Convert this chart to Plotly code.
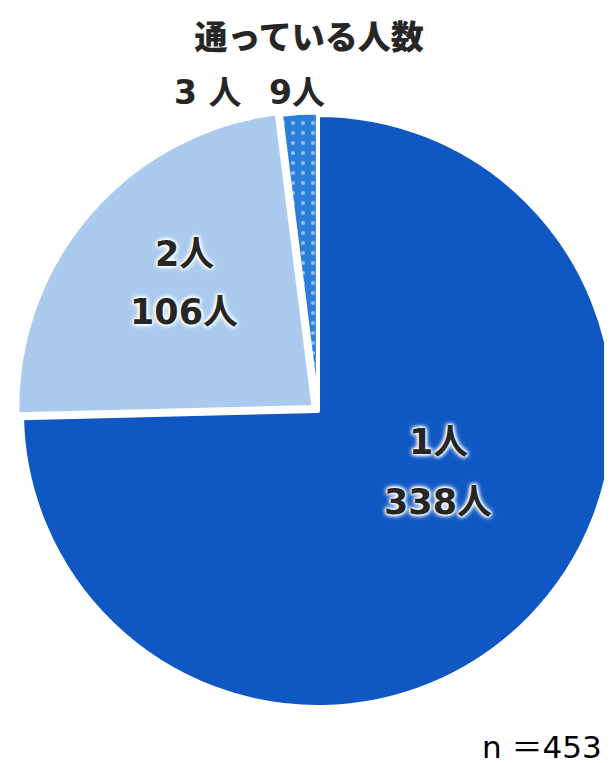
import plotly.graph_objects as go

title = "通っている人数"
categories = ["1人", "2人", "3人"]
counts = [338, 106, 9]
colors = ["#0F57C3", "#AACBEE", "#2B7FDA"]
pulls = [0, 0.02, 0.008]
total = sum(counts)

FONT = "DejaVu Sans, Noto Sans CJK JP, sans-serif"
TXT = "#262626"

fig = go.Figure()
fig.add_trace(go.Pie(
    labels=categories,
    values=counts,
    sort=False,
    direction="clockwise",
    rotation=0,
    pull=pulls,
    marker=dict(
        colors=colors,
        line=dict(color="white", width=4),
        pattern=dict(shape=["", "", "."], fgcolor="white", bgcolor=colors,
                     size=10, solidity=0.14, fillmode="overlay"),
    ),
    textinfo="none",
    hoverinfo="label+value",
    showlegend=False,
    domain=dict(x=[0.0131, 1.0], y=[0.076, 0.8677]),
))

glow = ("0px 0px 2px #fff, 0px 0px 2px #fff, 0px 0px 3px #fff, "
        "0px 0px 4px #fff, 0px 0px 5px #fff, 0px 0px 6px #fff")
anns = []
# inside labels for slice 1 and 2
pos = {0: (0.703, 0.431, 0.353), 1: (0.288, 0.678, 0.601)}
for i, (px, py1, py2) in pos.items():
    anns.append(dict(x=px, y=py1, xref="paper", yref="paper", xanchor="center", yanchor="middle",
                     text=categories[i], showarrow=False,
                     font=dict(family=FONT, size=35, color=TXT, weight="bold", shadow=glow)))
    anns.append(dict(x=px, y=py2, xref="paper", yref="paper", xanchor="center", yanchor="middle",
                     text=f"{counts[i]}人", showarrow=False,
                     font=dict(family=FONT, size=35, color=TXT, weight="bold", shadow=glow)))
# outside labels for small slice
anns.append(dict(x=0.326, y=0.889, xref="paper", yref="paper", xanchor="center", yanchor="middle",
                 text=categories[2].replace("人", " 人"), showarrow=False,
                 font=dict(family=FONT, size=33, color=TXT, weight="bold")))
anns.append(dict(x=0.472, y=0.889, xref="paper", yref="paper", xanchor="center", yanchor="middle",
                 text=f"{counts[2]}人", showarrow=False,
                 font=dict(family=FONT, size=33, color=TXT, weight="bold")))
# sample size
anns.append(dict(x=0.772, y=0.032, xref="paper", yref="paper", xanchor="left", yanchor="middle",
                 text=f"n ＝{total}", showarrow=False,
                 font=dict(family=FONT, size=31, color="#000000")))

fig.update_layout(
    width=612, height=763,
    margin=dict(l=0, r=0, t=0, b=0),
    paper_bgcolor="white",
    title=dict(text=title, x=0.492, xanchor="center", y=0.962, yanchor="middle",
               font=dict(family="Noto Sans CJK JP, sans-serif", size=33, color=TXT, weight=900)),
    annotations=anns,
)

fig.write_html("out.html")
